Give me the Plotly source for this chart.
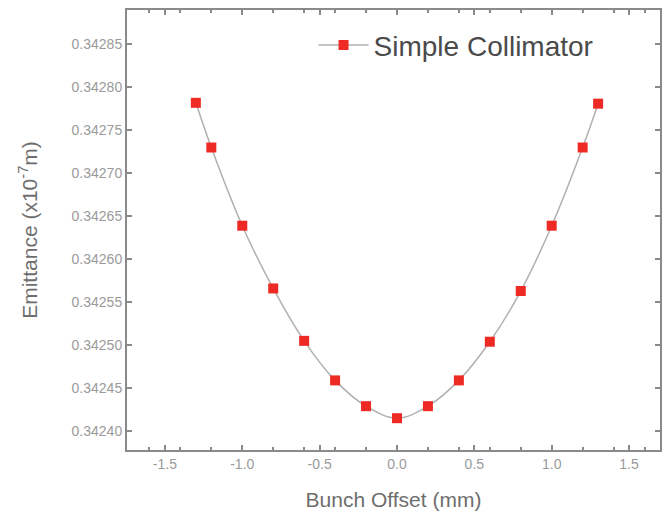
import plotly.graph_objects as go

offset_mm = [-1.3, -1.2, -1.0, -0.8, -0.6, -0.4, -0.2, 0.0, 0.2, 0.4, 0.6, 0.8, 1.0, 1.2, 1.3]
emittance = [0.342782, 0.342730, 0.342639, 0.342566, 0.342505, 0.342459, 0.342429, 0.342415,
             0.342429, 0.342459, 0.342504, 0.342563, 0.342639, 0.342730, 0.342781]
series_name = "Simple Collimator"
x_ticks = [-1.5, -1.0, -0.5, 0.0, 0.5, 1.0, 1.5]
y_ticks = [0.34240, 0.34245, 0.34250, 0.34255, 0.34260, 0.34265, 0.34270, 0.34275, 0.34280, 0.34285]

fig = go.Figure()
fig.add_trace(go.Scatter(
    x=offset_mm, y=emittance, name=series_name, mode="lines+markers",
    line=dict(color="#b0b0b0", width=1.5, shape="spline"),
    marker=dict(symbol="square", size=10, color="#ee2a24", line=dict(width=0)),
))

axis_common = dict(
    showline=True, linecolor="#8a8a8a", linewidth=2, mirror="ticks",
    ticks="inside", ticklen=5, tickcolor="#8a8a8a", tickwidth=1.5,
    showgrid=False, zeroline=False,
    tickfont=dict(family="Liberation Sans, Arial", size=14, color="#9a9a9a"),
    minor=dict(ticks="inside", ticklen=3, tickcolor="#8a8a8a", showgrid=False),
)

fig.update_layout(
    width=666, height=518,
    margin=dict(l=127, r=4, t=10, b=68),
    paper_bgcolor="white", plot_bgcolor="white",
    showlegend=True,
    legend=dict(x=0.35, y=0.92, xanchor="left", yanchor="middle", itemwidth=50,
                bgcolor="rgba(0,0,0,0)",
                font=dict(family="Liberation Sans, Arial", size=28, color="#4a4a4a")),
    xaxis=dict(axis_common, range=[-1.745, 1.70], tickvals=x_ticks,
               ticktext=[f"{v:.1f}" for v in x_ticks],
               title=dict(text="Bunch Offset (mm)", standoff=22,
                          font=dict(family="Liberation Sans, Arial", size=21, color="#6e6e6e"))),
    yaxis=dict(axis_common, range=[0.342378, 0.34289], tickvals=y_ticks,
               ticktext=[f"{v:.5f}" for v in y_ticks],
               title=dict(text="Emittance (x10<sup>-7</sup>m)", standoff=28,
                          font=dict(family="Liberation Sans, Arial", size=21, color="#6e6e6e"))),
)

fig.write_html("out.html")
